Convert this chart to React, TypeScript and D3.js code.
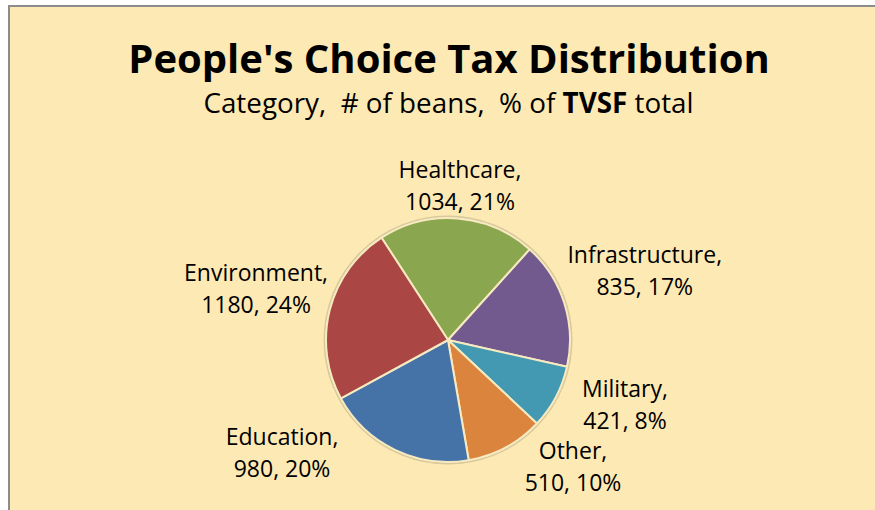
import React from "react";
import * as d3 from "d3";

const categories = ["Healthcare", "Infrastructure", "Military", "Other", "Education", "Environment"];
const beans = [1034, 835, 421, 510, 980, 1180];
const percents = ["21%", "17%", "8%", "10%", "20%", "24%"];
const colors = ["#8AA64F", "#725A8F", "#4299B1", "#DB843D", "#4572A7", "#AA4643"];

const W = 875;
const H = 510;
const cx = 448;
const cy = 340;
const R = 122;
const FONT = "'Open Sans', sans-serif";

// label placement: angle (deg, clockwise from 12 o'clock) and distance from pie centre
const labelPlacement: Record<string, { a: number; r: number }> = {
  Healthcare: { a: 4.7, r: 146.5 },
  Infrastructure: { a: 72.8, r: 206 },
  Military: { a: 112.5, r: 191.6 },
  Other: { a: 137.2, r: 184 },
  Education: { a: 233.9, r: 205.4 },
  Environment: { a: 282.5, r: 196.6 },
};

export default function App() {
  const data = categories.map((c, i) => ({ c, v: beans[i], p: percents[i], col: colors[i] }));
  const start = (-33 * Math.PI) / 180;
  const pie = d3
    .pie<any>()
    .value((d) => d.v)
    .sort(null)
    .startAngle(start)
    .endAngle(start + 2 * Math.PI);
  const arcs = pie(data);
  const arc = d3.arc<any>().innerRadius(0).outerRadius(R);

  return (
    <svg
      width={W}
      height={H}
      style={{ position: "absolute", left: 0, top: 0, display: "block" }}
    >
      <rect x={0} y={0} width={W} height={H} fill="#ffffff" />
      <rect x={9} y={6} width={W + 10} height={H + 10} fill="#FDE9B3" stroke="#8C8C8C" strokeWidth={2} />
      <text x={449} y={73} textAnchor="middle" fontFamily={FONT} fontWeight="bold" fontSize={40} fill="#000">
        People's Choice Tax Distribution
      </text>
      <text x={448.5} y={113} textAnchor="middle" fontFamily={FONT} fontSize={27.8} fill="#000">
        Category,{"\u00A0\u00A0"}# of beans,{"\u00A0\u00A0"}% of <tspan fontWeight="bold">TVSF</tspan> total
      </text>
      <g transform={`translate(${cx},${cy})`}>
        <circle r={R + 1.5} fill="none" stroke="#D8C89A" strokeWidth={2} />
        {arcs.map((a, i) => (
          <path key={i} d={arc(a) as string} fill={a.data.col} stroke="#F7EAC0" strokeWidth={2} strokeLinejoin="round" />
        ))}
        {arcs.map((a, i) => {
          const lp = labelPlacement[a.data.c];
          const ang = (lp.a * Math.PI) / 180;
          const x = Math.sin(ang) * lp.r;
          const y = -Math.cos(ang) * lp.r;
          return (
            <text key={"l" + i} x={x} y={y} textAnchor="middle" fontFamily={FONT} fontSize={23} fill="#000">
              <tspan x={x} dy={-16}>{a.data.c + ","}</tspan>
              <tspan x={x} dy={32}>{`${a.data.v}, ${a.data.p}`}</tspan>
            </text>
          );
        })}
      </g>
    </svg>
  );
}
